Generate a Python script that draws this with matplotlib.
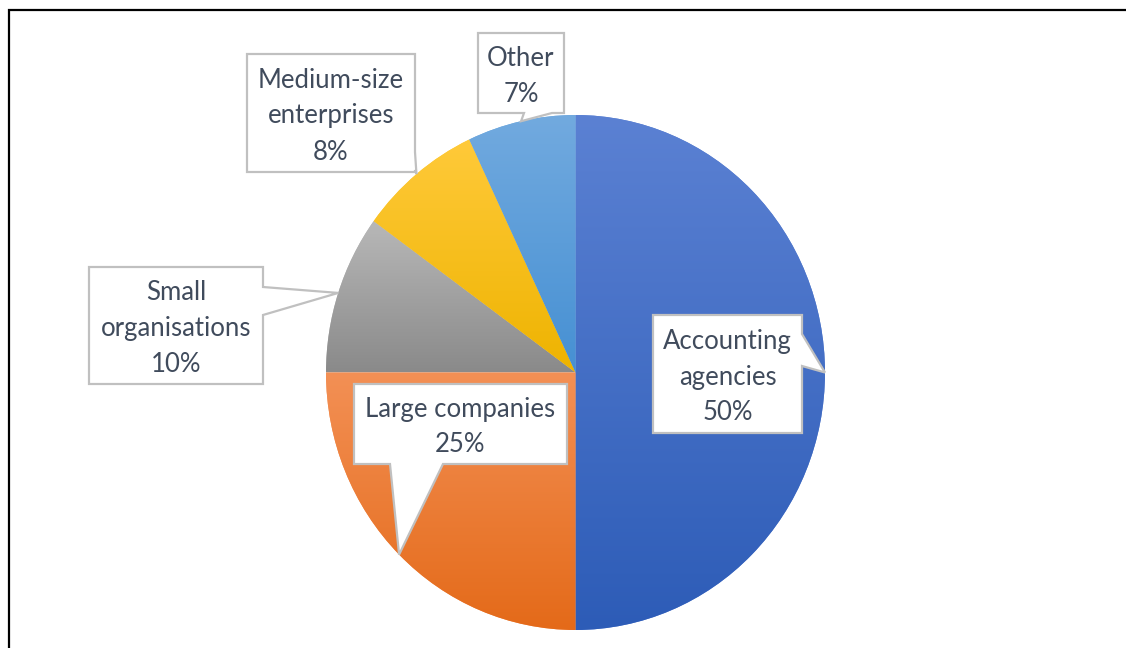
import numpy as np
import matplotlib
matplotlib.use("Agg")
import matplotlib.pyplot as plt
from matplotlib.patches import Polygon
from matplotlib.colors import LinearSegmentedColormap

# Data
categories = ["Accounting\nagencies", "Large companies", "Small\norganisations",
              "Medium-size\nenterprises", "Other"]
shares = [50, 25, 10, 8, 7]

# Vertical gradient per slice (top colour, bottom colour)
top_colors = ["#5b81d3", "#f39055", "#b8b8b8", "#ffca3a", "#72aadf"]
bottom_colors = ["#2d5cb7", "#e46a19", "#8a8a8a", "#eeb300", "#4690d3"]

# Callout boxes in pixel coordinates: (x0, y0, x1, y1), pointer side, pointer base span
callouts = [
    ((653, 315, 802, 433), "right", (334, 366)),
    ((354, 384, 567, 464), "bottom", (390, 443)),
    ((89, 267, 263, 384), "right", (287, 315)),
    ((247, 54, 415, 172), "right", (152, 170)),
    ((478, 33, 564, 113), "bottom", (524, 552)),
]

TEXT_COLOR = "#404b5c"
BOX_EDGE = "#c0c0c0"
FONT = "Lato"

W, H = 1126, 648
fig = plt.figure(figsize=(W / 100, H / 100), dpi=100)
fig.patch.set_facecolor("white")

# Pie axes placed on its pixel bounding box
pie_left, pie_top, pie_right, pie_bottom = 326, 115, 825, 630
ax = fig.add_axes([pie_left / W, 1 - pie_bottom / H,
                   (pie_right - pie_left) / W, (pie_bottom - pie_top) / H])
wedges, _ = ax.pie(shares, startangle=90, counterclock=False, radius=1,
                   wedgeprops=dict(linewidth=0))

grad = np.linspace(0, 1, 256).reshape(-1, 1)
for w, c_top, c_bot in zip(wedges, top_colors, bottom_colors):
    t = np.radians(np.linspace(w.theta1, w.theta2, 400))
    ys = np.concatenate([[0.0], np.sin(t)])
    ymin, ymax = ys.min(), ys.max()
    cmap = LinearSegmentedColormap.from_list("slice", [c_bot, c_top])
    w.set_facecolor(c_top)
    im = ax.imshow(grad, cmap=cmap, extent=(-1, 1, ymin, ymax), origin="lower",
                   aspect="auto", interpolation="bilinear", zorder=w.get_zorder() + 0.5)
    im.set_clip_path(w)

ax.set_aspect("auto")
ax.set_xlim(-1, 1)
ax.set_ylim(-1, 1)
ax.axis("off")

# Overlay axes in pixel coordinates for callouts and the frame
ov = fig.add_axes([0, 0, 1, 1], zorder=5)
ov.set_xlim(0, W)
ov.set_ylim(H, 0)
ov.axis("off")

fig.canvas.draw()
to_px = ax.transData + ov.transData.inverted()

for w, cat, share, (box, side, base) in zip(wedges, categories, shares, callouts):
    mid = np.radians((w.theta1 + w.theta2) / 2)
    tip = to_px.transform((np.cos(mid), np.sin(mid)))
    x0, y0, x1, y1 = box
    b0, b1 = base
    if side == "right":
        verts = [(x0, y0), (x1, y0), (x1, b0), tuple(tip), (x1, b1), (x1, y1), (x0, y1)]
    else:  # bottom
        verts = [(x0, y0), (x1, y0), (x1, y1), (b1, y1), tuple(tip), (b0, y1), (x0, y1)]
    ov.add_patch(Polygon(verts, closed=True, facecolor="white", edgecolor=BOX_EDGE,
                         linewidth=1.6, joinstyle="miter"))
    ov.text((x0 + x1) / 2, (y0 + y1) / 2 + 3, f"{cat}\n{share}%", ha="center", va="center",
            fontsize=18.5, family=FONT, color=TEXT_COLOR, linespacing=1.55)

# Frame lines along the top and left edges
ov.plot([9, 9, W + 5], [H + 5, 10, 10], color="black", linewidth=1.6,
        solid_joinstyle="miter", clip_on=False)

fig.savefig("out.png", dpi=100, facecolor="white")
